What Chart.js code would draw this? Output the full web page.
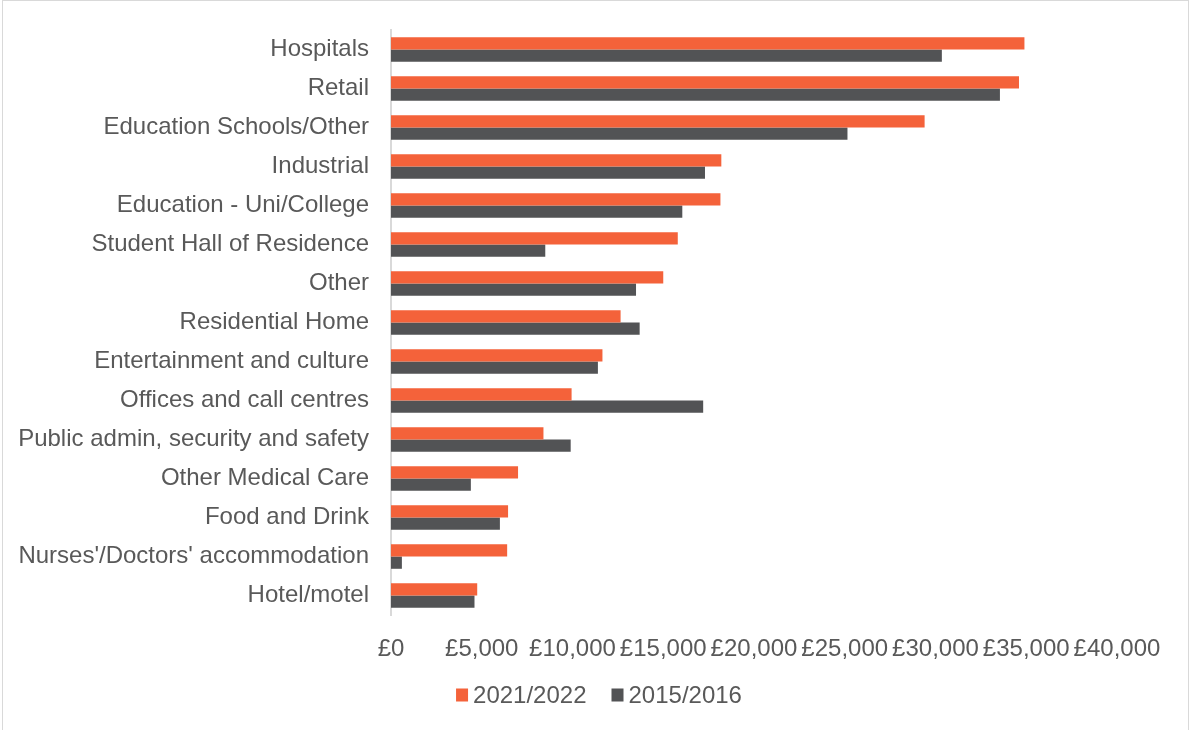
<!DOCTYPE html>
<html>
<head>
<meta charset="utf-8">
<script src="https://cdn.jsdelivr.net/npm/chart.js@4/dist/chart.umd.min.js"></script>
<style>
html,body{margin:0;padding:0;background:#fff;}
canvas{display:block;}
</style>
</head>
<body>
<canvas id="c" width="1190" height="730"></canvas>
<script>
const categories = [
  "Hospitals",
  "Retail",
  "Education Schools/Other",
  "Industrial",
  "Education - Uni/College",
  "Student Hall of Residence",
  "Other",
  "Residential Home",
  "Entertainment and culture",
  "Offices and call centres",
  "Public admin, security and safety",
  "Other Medical Care",
  "Food and Drink",
  "Nurses'/Doctors' accommodation",
  "Hotel/motel"
];
const series2021 = [34900, 34600, 29400, 18200, 18150, 15800, 15000, 12650, 11650, 9950, 8400, 7000, 6450, 6400, 4750];
const series2015 = [30350, 33550, 25150, 17300, 16050, 8500, 13500, 13700, 11400, 17200, 9900, 4400, 6000, 600, 4600];
const seriesNames = ["2021/2022", "2015/2016"];
const xTicks = [0, 5000, 10000, 15000, 20000, 25000, 30000, 35000, 40000];

const FONT = "'Liberation Sans', Arial, sans-serif";
const TEXT = "#595959";
const FS = 24;

const borderPlugin = {
  id: 'outerBorder',
  beforeDraw(chart) {
    const ctx = chart.ctx;
    ctx.save();
    ctx.fillStyle = '#ffffff';
    ctx.fillRect(0, 0, chart.width, chart.height);
    ctx.strokeStyle = '#d9d9d9';
    ctx.lineWidth = 1;
    ctx.strokeRect(2.5, 0.5, chart.width - 4, chart.height + 5);
    ctx.restore();
  }
};

const legendPlugin = {
  id: 'customLegend',
  afterDraw(chart) {
    const ctx = chart.ctx;
    ctx.save();
    ctx.font = FS + "px " + FONT;
    ctx.textBaseline = 'middle';
    const box = 12, gapBoxText = 5, gapItems = 25;
    const items = chart.data.datasets.map(d => ({ text: d.label, color: d.backgroundColor, w: ctx.measureText(d.label).width }));
    let total = 0;
    items.forEach((it, i) => { total += box + gapBoxText + it.w + (i < items.length - 1 ? gapItems : 0); });
    let x = 599 - total / 2;
    const cy = 695;
    items.forEach(it => {
      ctx.fillStyle = it.color;
      ctx.fillRect(x, cy - 6.5, box, box + 1);
      ctx.fillStyle = TEXT;
      ctx.fillText(it.text, x + box + gapBoxText, cy + 1);
      x += box + gapBoxText + it.w + gapItems;
    });
    ctx.restore();
  }
};

new Chart(document.getElementById('c'), {
  type: 'bar',
  data: {
    labels: categories,
    datasets: [
      { label: seriesNames[0], data: series2021, backgroundColor: '#F4623A', borderWidth: 0 },
      { label: seriesNames[1], data: series2015, backgroundColor: '#525355', borderWidth: 0 }
    ]
  },
  options: {
    indexAxis: 'y',
    responsive: false,
    animation: false,
    devicePixelRatio: 1,
    layout: { padding: { left: 0, right: 0, top: 30, bottom: 55 } },
    datasets: { bar: { categoryPercentage: 0.63, barPercentage: 1.0 } },
    scales: {
      x: {
        min: 0, max: 40000,
        afterBuildTicks(scale) { scale.ticks = xTicks.map(v => ({ value: v })); },
        afterFit(scale) { scale.height = 60; scale.paddingLeft = 0; scale.paddingRight = 0; },
        grid: { display: false, drawTicks: false },
        border: { display: false },
        ticks: {
          padding: 20,
          color: TEXT,
          font: { family: FONT, size: FS },
          maxRotation: 0,
          autoSkip: false,
          callback: (v) => '£' + Number(v).toLocaleString('en-GB')
        }
      },
      y: {
        afterFit(scale) { scale.width = 391; scale.paddingTop = 0; scale.paddingBottom = 0; },
        grid: { display: false, drawTicks: false },
        border: { display: true, color: '#d9d9d9', width: 2 },
        ticks: {
          padding: 22,
          color: TEXT,
          font: { family: FONT, size: FS },
          autoSkip: false
        }
      },
      yRight: {
        position: 'right',
        type: 'category',
        labels: categories,
        afterFit(scale) { scale.width = 73; scale.paddingTop = 0; scale.paddingBottom = 0; },
        grid: { display: false, drawTicks: false },
        border: { display: false },
        ticks: { display: false }
      }
    },
    plugins: {
      legend: { display: false },
      tooltip: { enabled: false }
    }
  },
  plugins: [borderPlugin, legendPlugin]
});
</script>
</body>
</html>
